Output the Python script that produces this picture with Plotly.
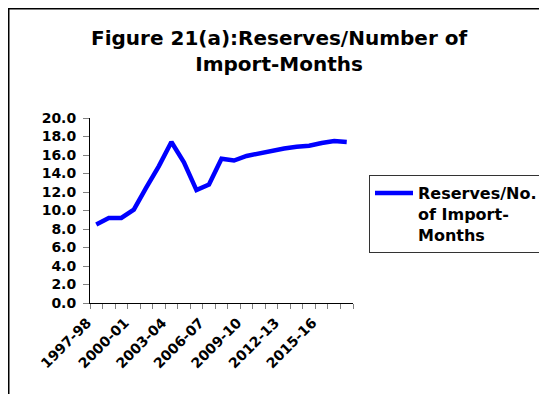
import plotly.graph_objects as go

categories = ["1997-98", "1998-99", "1999-00", "2000-01", "2001-02", "2002-03",
              "2003-04", "2004-05", "2005-06", "2006-07", "2007-08", "2008-09",
              "2009-10", "2010-11", "2011-12", "2012-13", "2013-14", "2014-15",
              "2015-16", "2016-17", "2017-18"]
reserves_months = [8.5, 9.2, 9.2, 10.1, 12.5, 14.8, 17.4, 15.2, 12.2, 12.8, 15.6,
                   15.4, 15.9, 16.2, 16.4, 16.7, 16.9, 17.0, 17.3, 17.5, 17.4]
series_lines = ["Reserves/No.", "of Import-", "Months"]
title_lines = ["Figure 21(a):Reserves/Number of", "Import-Months"]
y_ticks = [0, 2, 4, 6, 8, 10, 12, 14, 16, 18, 20]

FONT = "DejaVu Sans"
OFF = 8  # default page body margin around the figure
W, H = 547 - OFF, 394 - OFF
L, T = 90 - OFF, 118 - OFF
pw, ph = 263, 185
R, B = W - L - pw, H - T - ph

idx = list(range(len(categories)))
label_idx = idx[::3]

def bold(s):
    return "<b>" + s + "</b>"

def px_x(p):  # page pixel -> paper x
    return (p - OFF - L) / pw

def px_y(p):  # page pixel -> paper y
    return (T + ph - (p - OFF)) / ph

fig = go.Figure()
fig.add_trace(go.Scatter(
    x=idx, y=reserves_months, mode="lines",
    name="<br>".join(bold(s) for s in series_lines),
    line=dict(color="#0000FF", width=4.5), showlegend=True,
))

fig.update_layout(
    width=W, height=H,
    margin=dict(l=L, r=R, t=T, b=B, autoexpand=False),
    paper_bgcolor="white", plot_bgcolor="white",
    font=dict(family=FONT, color="black"),
    showlegend=True,
    legend=dict(
        x=px_x(369), y=px_y(175), xanchor="left", yanchor="top",
        bordercolor="#333333", borderwidth=1, bgcolor="white",
        font=dict(family=FONT, size=16, color="black"),
        valign="top", itemwidth=38,
    ),
    xaxis=dict(
        range=[-0.5, len(categories) - 0.5],
        tickmode="array", tickvals=label_idx,
        ticktext=[bold(categories[i]) for i in label_idx],
        tickangle=-45, ticks="", showgrid=False, zeroline=False,
        showline=True, linecolor="black", linewidth=1,
        ticklabelshift=-9, ticklabelstandoff=5,
        tickfont=dict(family=FONT, size=14, color="black"),
        minor=dict(tickmode="linear", tick0=-0.5, dtick=1, ticks="outside",
                   ticklen=5, tickcolor="#808080", tickwidth=1),
    ),
    yaxis=dict(
        range=[0, 20], tickmode="array", tickvals=y_ticks,
        ticktext=[bold(f"{v:.1f}") for v in y_ticks],
        ticks="outside", ticklen=6, tickcolor="#808080", tickwidth=1,
        showgrid=False, zeroline=False, showline=True, linecolor="black",
        linewidth=1, ticklabelstandoff=4,
        tickfont=dict(family=FONT, size=14, color="black"),
    ),
)

fig.add_annotation(
    text="<br>".join(bold(s) for s in title_lines), xref="paper", yref="paper",
    x=px_x(279), y=px_y(51), xanchor="center", yanchor="middle",
    showarrow=False, align="center",
    font=dict(family=FONT, size=20, color="black"),
)

# outer chart-area frame (top and left edges visible in the crop)
fig.add_shape(type="rect", xref="paper", yref="paper",
              x0=px_x(OFF + 0.75), y0=px_y(430), x1=px_x(580), y1=px_y(OFF + 0.75),
              line=dict(color="black", width=1.5),
              fillcolor="rgba(0,0,0,0)", layer="above")

fig.write_html("out.html", config={"displayModeBar": False})
